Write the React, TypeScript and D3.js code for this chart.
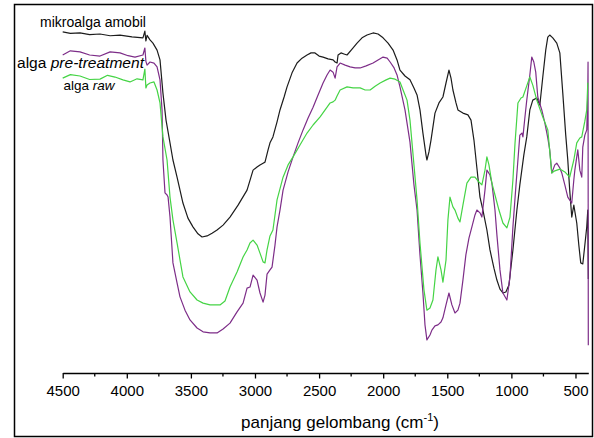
import React, { useEffect, useRef } from "react";
import * as d3 from "d3";

// Wavenumber (cm^-1) and transmittance (a.u.) for each spectrum
const amobilWn = [4500, 4440, 4365, 4290, 4209, 4130, 4053, 3960, 3874, 3859, 3851, 3842, 3819, 3796, 3764, 3741, 3718, 3694, 3663, 3640, 3608, 3562, 3523, 3484, 3445, 3413, 3374, 3335, 3296, 3249, 3195, 3132, 3062, 3015, 2984, 2961, 2937, 2922, 2898, 2883, 2860, 2828, 2805, 2773, 2750, 2711, 2672, 2633, 2594, 2563, 2532, 2500, 2469, 2430, 2391, 2375, 2360, 2352, 2329, 2306, 2282, 2243, 2204, 2165, 2126, 2079, 2040, 2001, 1962, 1923, 1892, 1869, 1830, 1791, 1760, 1736, 1713, 1690, 1666, 1659, 1643, 1627, 1596, 1565, 1534, 1510, 1487, 1471, 1456, 1432, 1417, 1378, 1339, 1315, 1292, 1269, 1245, 1222, 1191, 1167, 1136, 1113, 1089, 1066, 1043, 1019, 988, 957, 934, 903, 880, 856, 833, 802, 778, 755, 732, 716, 701, 677, 646, 622, 599, 576, 560, 545, 529, 513, 490, 474, 459, 443, 427, 412, 404, 400];
const amobilT = [96.6, 96.2, 96.3, 95.8, 96.0, 95.5, 95.7, 95.2, 94.9, 96.8, 94.0, 95.6, 94.3, 93.4, 91.4, 88.6, 79.1, 71.4, 64.9, 60.0, 55.1, 47.7, 43.4, 40.9, 38.9, 38.0, 38.3, 39.1, 40.0, 41.4, 43.7, 47.1, 51.4, 57.1, 58.0, 58.6, 59.1, 59.4, 62.9, 64.9, 66.6, 70.9, 74.3, 78.0, 80.9, 84.9, 87.7, 89.1, 90.0, 90.6, 90.6, 89.7, 89.4, 88.9, 88.6, 88.0, 87.7, 90.0, 90.6, 90.3, 90.0, 91.7, 93.4, 94.9, 95.7, 96.3, 96.0, 94.9, 93.4, 91.4, 88.6, 85.7, 84.0, 82.9, 80.6, 78.6, 74.3, 67.7, 61.4, 60.0, 62.3, 65.7, 73.4, 76.3, 78.0, 82.0, 85.7, 83.4, 80.0, 76.3, 74.3, 73.4, 72.9, 71.4, 65.7, 57.7, 49.4, 45.7, 40.0, 34.3, 29.1, 25.7, 23.1, 22.0, 22.3, 24.3, 34.3, 45.7, 52.9, 61.4, 66.6, 74.3, 77.1, 77.7, 75.7, 83.7, 91.4, 95.1, 95.7, 94.9, 93.4, 90.6, 79.1, 67.1, 60.0, 51.4, 43.7, 47.1, 42.0, 35.7, 30.6, 30.3, 35.7, 40.9, 45.7, 26.0];

const pretreatWn = [4500, 4440, 4365, 4290, 4209, 4130, 4053, 3990, 3936, 3874, 3859, 3851, 3842, 3819, 3788, 3764, 3741, 3725, 3718, 3702, 3686, 3678, 3663, 3640, 3608, 3585, 3546, 3507, 3452, 3405, 3351, 3296, 3249, 3195, 3140, 3093, 3062, 3039, 3015, 2984, 2961, 2937, 2922, 2906, 2883, 2867, 2844, 2828, 2805, 2781, 2742, 2703, 2664, 2625, 2586, 2547, 2508, 2469, 2438, 2414, 2391, 2375, 2360, 2336, 2297, 2258, 2219, 2180, 2133, 2079, 2040, 2001, 1969, 1946, 1915, 1892, 1869, 1830, 1791, 1760, 1736, 1713, 1690, 1674, 1659, 1635, 1620, 1596, 1573, 1549, 1534, 1510, 1487, 1464, 1440, 1417, 1401, 1378, 1355, 1331, 1308, 1284, 1269, 1245, 1230, 1206, 1191, 1167, 1152, 1128, 1113, 1089, 1066, 1035, 1011, 988, 964, 949, 934, 918, 910, 895, 880, 856, 841, 825, 810, 794, 763, 739, 716, 701, 685, 661, 646, 622, 607, 583, 560, 529, 513, 505, 490, 482, 466, 451, 443, 427, 412, 404, 402, 400];
const pretreatT = [90.0, 91.2, 90.9, 90.0, 89.7, 90.9, 90.6, 89.8, 89.4, 90.0, 92.0, 88.2, 87.1, 88.0, 87.7, 86.6, 82.9, 74.3, 60.0, 50.6, 50.0, 49.4, 43.7, 30.6, 24.9, 20.9, 17.1, 14.3, 12.0, 10.9, 10.6, 10.6, 11.7, 13.4, 16.6, 19.1, 23.4, 23.7, 27.1, 25.7, 22.0, 19.4, 21.4, 27.4, 28.6, 29.4, 35.7, 40.9, 45.7, 51.4, 56.6, 60.9, 64.9, 68.6, 72.0, 75.1, 78.6, 82.0, 84.3, 85.7, 85.1, 83.4, 86.6, 87.7, 87.1, 86.6, 86.3, 86.3, 86.9, 87.7, 88.6, 89.4, 89.1, 88.0, 86.3, 84.3, 80.9, 74.3, 65.1, 52.9, 45.7, 32.9, 22.0, 12.9, 8.6, 10.0, 11.4, 12.6, 12.9, 13.7, 14.9, 18.6, 22.0, 18.6, 16.3, 17.1, 19.1, 25.7, 32.9, 37.7, 40.9, 44.3, 45.7, 44.9, 43.7, 51.4, 57.1, 55.7, 53.4, 45.7, 38.6, 28.6, 22.0, 20.0, 26.6, 40.9, 52.9, 60.0, 67.1, 67.7, 66.6, 72.0, 77.1, 84.3, 89.4, 88.0, 85.1, 78.0, 74.3, 70.6, 66.3, 62.9, 56.3, 58.6, 59.1, 57.7, 56.3, 52.9, 49.4, 47.7, 54.3, 57.1, 60.9, 62.9, 57.1, 55.1, 63.7, 67.1, 68.6, 79.1, 88.0, 7.1];

const rawWn = [4500, 4440, 4365, 4290, 4209, 4150, 4092, 4030, 3975, 3920, 3874, 3859, 3851, 3842, 3819, 3788, 3764, 3741, 3718, 3686, 3663, 3640, 3608, 3562, 3507, 3452, 3405, 3351, 3273, 3234, 3195, 3140, 3093, 3062, 3039, 3015, 2984, 2961, 2937, 2922, 2906, 2883, 2860, 2828, 2781, 2742, 2703, 2649, 2594, 2547, 2492, 2453, 2414, 2391, 2375, 2360, 2336, 2282, 2235, 2180, 2141, 2102, 2063, 2024, 1977, 1946, 1907, 1869, 1845, 1814, 1791, 1760, 1736, 1713, 1682, 1659, 1635, 1612, 1588, 1573, 1549, 1534, 1510, 1495, 1479, 1456, 1440, 1417, 1401, 1378, 1347, 1315, 1284, 1253, 1230, 1206, 1191, 1175, 1152, 1128, 1097, 1066, 1035, 1011, 988, 972, 949, 925, 910, 878, 856, 833, 802, 755, 716, 685, 661, 622, 583, 545, 513, 490, 466, 451, 427, 412, 404, 400];
const rawT = [83.4, 84.4, 84.0, 83.0, 83.1, 84.2, 83.7, 82.9, 82.3, 83.2, 82.9, 86.0, 80.6, 81.4, 82.0, 82.3, 80.0, 76.3, 66.6, 60.0, 49.4, 42.9, 36.3, 26.6, 22.3, 20.0, 19.1, 18.6, 18.6, 19.7, 23.7, 28.0, 32.3, 34.3, 36.3, 37.1, 35.7, 33.4, 30.9, 30.6, 34.3, 38.3, 40.0, 48.6, 55.1, 58.6, 60.9, 64.3, 67.7, 70.0, 72.3, 74.3, 76.3, 76.6, 77.1, 78.3, 80.0, 80.9, 80.6, 80.6, 80.0, 80.0, 81.1, 82.0, 82.9, 83.4, 83.1, 82.3, 80.0, 77.1, 71.4, 58.6, 48.6, 36.3, 22.9, 17.1, 17.7, 20.0, 28.6, 32.3, 28.6, 25.1, 31.4, 42.9, 49.4, 46.6, 45.7, 43.4, 42.3, 47.1, 53.4, 55.1, 55.1, 53.7, 52.9, 57.1, 60.9, 58.6, 53.4, 50.0, 45.7, 42.0, 40.6, 43.7, 54.3, 64.6, 76.3, 77.7, 78.0, 81.4, 83.7, 81.4, 77.1, 72.3, 68.6, 56.3, 56.9, 57.4, 56.6, 55.1, 60.0, 64.9, 66.3, 66.6, 71.1, 74.3, 82.0, 82.0];

const majorTicks = [4500, 4000, 3500, 3000, 2500, 2000, 1500, 1000, 500];
const minorTicks = [4250, 3750, 3250, 2750, 2250, 1750, 1250, 750];
const xTitle = "panjang gelombang (cm";
const xTitleSup = "-1";

const seriesList = [
  { name: "amobil", wn: amobilWn, t: amobilT, color: "#1c1c1c" },
  { name: "pretreat", wn: pretreatWn, t: pretreatT, color: "#7d2d88" },
  { name: "raw", wn: rawWn, t: rawT, color: "#45d445" },
];

export default function App() {
  const axisRef = useRef<SVGGElement>(null);
  const x = d3.scaleLinear().domain([4500, 400]).range([62.7, 588.3]);
  const y = d3.scaleLinear().domain([0, 100]).range([370, 20]);
  const axisY = 373;

  useEffect(() => {
    if (!axisRef.current) return;
    const g = d3.select(axisRef.current);
    g.selectAll("*").remove();
    const ax = d3
      .axisBottom(x)
      .tickValues(majorTicks)
      .tickSize(5.5)
      .tickSizeOuter(0)
      .tickPadding(7)
      .tickFormat(d3.format("d"));
    g.call(ax as any);
    g.select(".domain").attr("stroke", "#000").attr("stroke-width", 1.3);
    g.selectAll(".tick line").attr("stroke", "#000").attr("stroke-width", 1.3);
    g.selectAll(".tick text")
      .attr("fill", "#000")
      .attr("font-size", 15)
      .attr("font-family", "Arial, 'Liberation Sans', sans-serif");
    g.selectAll(".minor")
      .data(minorTicks)
      .enter()
      .append("line")
      .attr("class", "minor")
      .attr("x1", (d) => x(d))
      .attr("x2", (d) => x(d))
      .attr("y1", 0)
      .attr("y2", 3.5)
      .attr("stroke", "#000")
      .attr("stroke-width", 1.3);
  }, []);

  const line = (wn: number[], t: number[]) =>
    d3
      .line<number>()
      .x((_, i) => x(wn[i]))
      .y((d) => y(d))(t) || "";

  const font = "Arial, 'Liberation Sans', sans-serif";

  return (
    <svg
      width={594}
      height={438}
      style={{ position: "absolute", left: 0, top: 0, background: "#fff" }}
    >
      <rect x={14.5} y={4.5} width={578} height={432} fill="#fff" stroke="#000" strokeWidth={1.5} />
      {seriesList.map((s) => (
        <path
          key={s.name}
          d={line(s.wn, s.t)}
          fill="none"
          stroke={s.color}
          strokeWidth={1.2}
          strokeLinejoin="round"
        />
      ))}
      <g ref={axisRef} transform={`translate(0,${axisY})`} />
      <text x={93} y={26.5} fontSize={14} fontFamily={font} fill="#000" textAnchor="middle">
        mikroalga amobil
      </text>
      <text x={17} y={67.5} fontSize={14} fontFamily={font} fill="#000" textLength={127} lengthAdjust="spacingAndGlyphs">
        alga <tspan fontStyle="italic">pre-treatment</tspan>
      </text>
      <text x={89} y={89.5} fontSize={13.5} fontFamily={font} fill="#000" textAnchor="middle">
        alga <tspan fontStyle="italic">raw</tspan>
      </text>
      <text x={340} y={428} fontSize={17} fontFamily={font} fill="#000" textAnchor="middle">
        {xTitle}
        <tspan dy={-7} fontSize={11}>{xTitleSup}</tspan>
        <tspan dy={7}>)</tspan>
      </text>
    </svg>
  );
}
